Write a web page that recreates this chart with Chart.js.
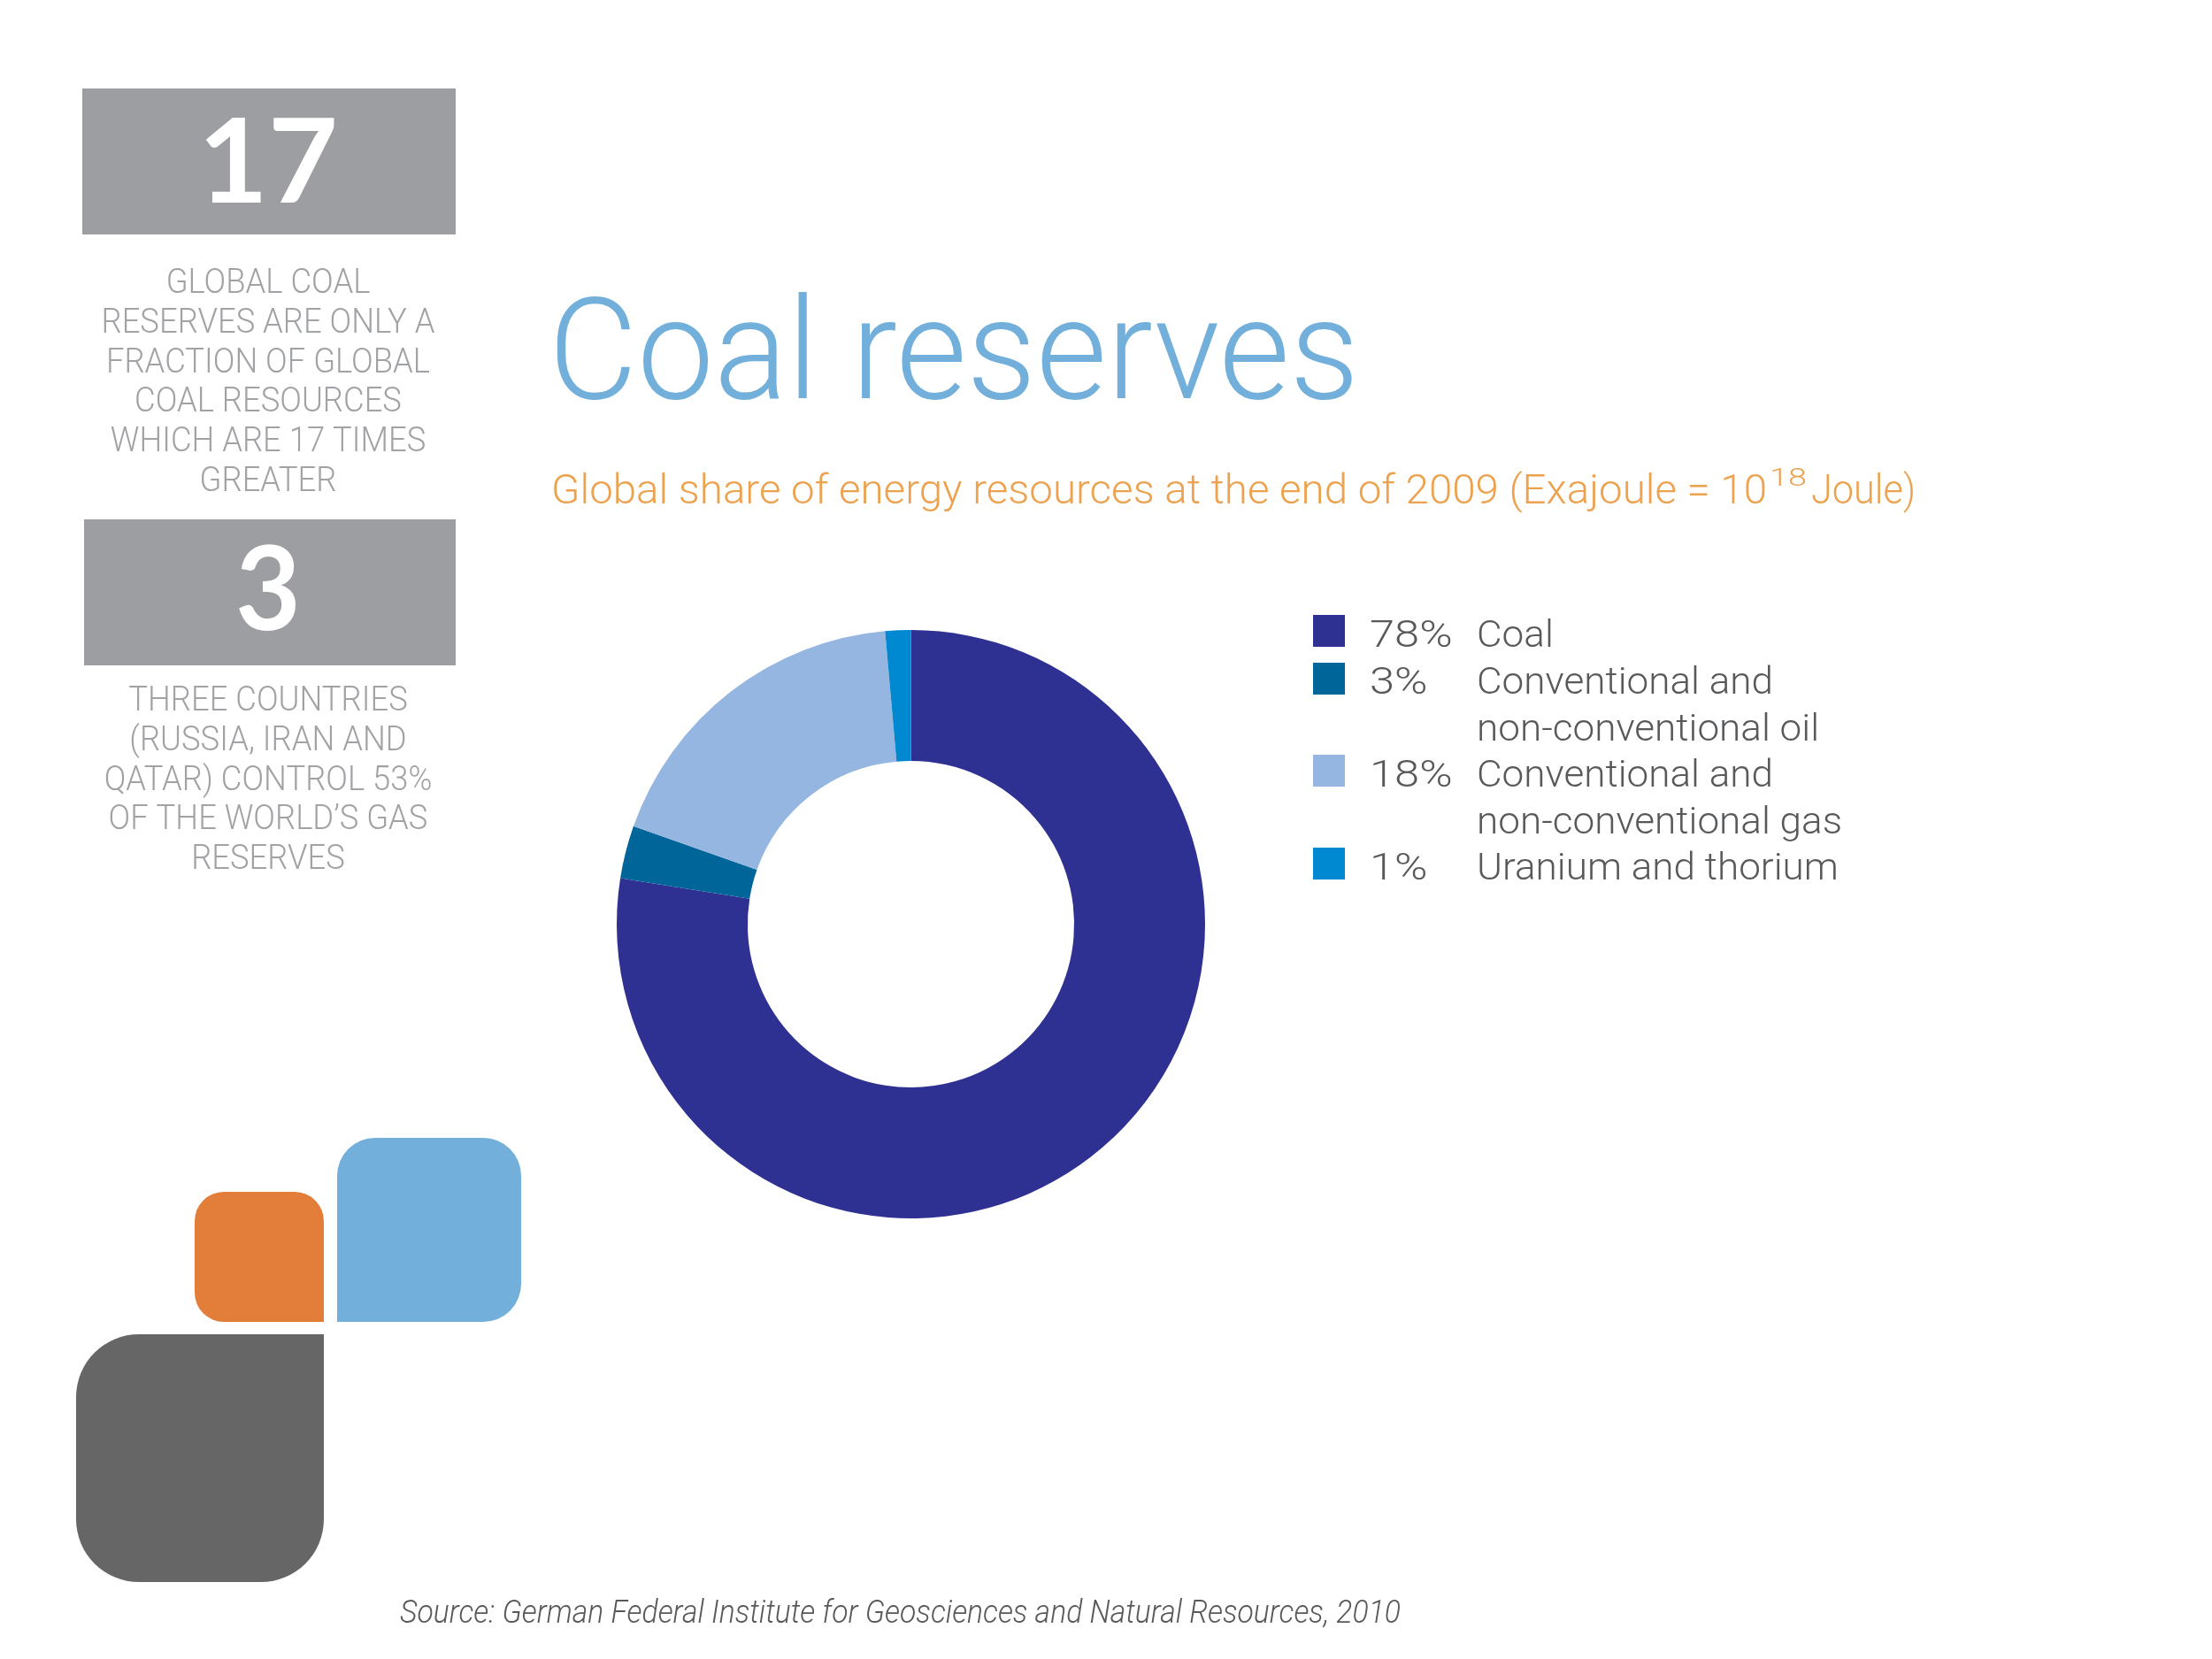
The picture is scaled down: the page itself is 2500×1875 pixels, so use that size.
<!DOCTYPE html>
<html>
<head>
<meta charset="utf-8">
<style>html,body{margin:0;padding:0;background:#fff}canvas{display:block}</style>
<script src="https://cdn.jsdelivr.net/npm/chart.js@4"></script>
</head>
<body>
<canvas id="c" width="2500" height="1875"></canvas>
<script>
const categories = ['Coal', 'Conventional and non-conventional oil', 'Conventional and non-conventional gas', 'Uranium and thorium'];
const shareValues = [77.5, 2.9, 18.2, 1.4];
const shareLabels = ['78%', '3%', '18%', '1%'];
const legendLines = [['Coal'], ['Conventional and', 'non-conventional oil'], ['Conventional and', 'non-conventional gas'], ['Uranium and thorium']];
const sliceColors = ['#2e3192', '#006699', '#95b6e0', '#0088d1'];
const titleText = 'Coal reserves';
const subtitleParts = ['Global share of energy resources at the end of 2009 (Exajoule = 10', '18', 'Joule)'];
const sourceText = 'Source: German Federal Institute for Geosciences and Natural Resources, 2010';
const statNumbers = ['17', '3'];
const statTexts = [
  ['GLOBAL COAL', 'RESERVES ARE ONLY A', 'FRACTION OF GLOBAL', 'COAL RESOURCES', 'WHICH ARE 17 TIMES', 'GREATER'],
  ['THREE COUNTRIES', '(RUSSIA, IRAN AND', 'QATAR) CONTROL 53%', 'OF THE WORLD\u2019S GAS', 'RESERVES']
];

function put(ctx, text, x, y, font, color, targetW, align) {
  ctx.save();
  ctx.font = font; ctx.fillStyle = color; ctx.textBaseline = 'alphabetic'; ctx.textAlign = 'left';
  const w = ctx.measureText(text).width;
  const sx = targetW ? targetW / w : 1;
  const left = align === 'center' ? x - w * sx / 2 : x;
  ctx.translate(left, y); ctx.scale(sx, 1);
  ctx.fillText(text, 0, 0);
  ctx.restore();
}
function scaleFor(ctx, text, font, targetW) {
  ctx.save(); ctx.font = font; const s = targetW / ctx.measureText(text).width; ctx.restore(); return s;
}
function widthAt(ctx, text, font, s) {
  ctx.save(); ctx.font = font; const w = ctx.measureText(text).width * s; ctx.restore(); return w;
}

const pagePlugin = {
  id: 'page',
  beforeDraw(chart) {
    const ctx = chart.ctx;
    ctx.save();
    ctx.fillStyle = '#fff'; ctx.fillRect(0, 0, 2500, 1875);
    ctx.fillStyle = '#9d9ea2';
    ctx.fillRect(93, 100, 422, 165);
    ctx.fillRect(95, 587, 420, 165);
    ctx.fillStyle = '#72b0db'; ctx.beginPath(); ctx.roundRect(381, 1286, 208, 208, [43, 43, 43, 0]); ctx.fill();
    ctx.fillStyle = '#e37e3a'; ctx.beginPath(); ctx.roundRect(220, 1347, 146, 147, [33, 33, 0, 33]); ctx.fill();
    ctx.fillStyle = '#666666'; ctx.beginPath(); ctx.roundRect(86, 1508, 280, 280, [71, 0, 71, 71]); ctx.fill();
    ctx.restore();

    const numFont = "bold 133px 'Lato'";
    put(ctx, statNumbers[0], 303, 229, numFont, '#ffffff', 158, 'center');
    put(ctx, statNumbers[1], 303, 712, numFont, '#ffffff', 74, 'center');

    const sideFont = "300 38px 'Roboto'";
    const sideS = scaleFor(ctx, statTexts[0][1], sideFont, 377);
    statTexts[0].forEach((t, i) => {
      put(ctx, t, 303, 331 + i * 44.8, sideFont, '#a0a2a5', widthAt(ctx, t, sideFont, sideS), 'center');
    });
    statTexts[1].forEach((t, i) => {
      put(ctx, t, 303, 803 + i * 44.8, sideFont, '#a0a2a5', widthAt(ctx, t, sideFont, sideS), 'center');
    });

    put(ctx, titleText, 620, 450, "300 160px 'Roboto'", '#72b0db', 916);

    const subFont = "300 46px 'Roboto'";
    const subS = scaleFor(ctx, subtitleParts[0], subFont, 1374);
    put(ctx, subtitleParts[0], 623, 569, subFont, '#eca24f', 1374);
    put(ctx, subtitleParts[1], 2000, 549, "300 28px 'Roboto'", '#eca24f', 42);
    put(ctx, subtitleParts[2], 2047, 569, subFont, '#eca24f', 118);

    const legFont = "300 42px 'Roboto'";
    const legS = scaleFor(ctx, 'non-conventional gas', legFont, 413);
    const rowY = [731, 784, 889, 994];
    const boxY = [695, 749, 853, 958];
    categories.forEach((cat, i) => {
      ctx.fillStyle = sliceColors[i];
      ctx.fillRect(1484, boxY[i], 36, 36);
      put(ctx, shareLabels[i], 1548, rowY[i], legFont, '#58595b', widthAt(ctx, shareLabels[i], legFont, legS * 1.15));
      legendLines[i].forEach((line, j) => {
        put(ctx, line, 1669, rowY[i] + j * 53, legFont, '#58595b', widthAt(ctx, line, legFont, legS));
      });
    });

    put(ctx, sourceText, 452, 1834, "italic 300 36px 'Roboto'", '#58595b', 1131);
  }
};

new Chart(document.getElementById('c'), {
  type: 'doughnut',
  data: {
    labels: categories,
    datasets: [{ data: shareValues, backgroundColor: sliceColors, borderWidth: 0, hoverOffset: 0 }]
  },
  options: {
    responsive: false,
    devicePixelRatio: 1,
    animation: false,
    cutout: '55.5%',
    layout: { padding: { left: 697, right: 1138, top: 712, bottom: 498 } },
    plugins: { legend: { display: false }, tooltip: { enabled: false }, title: { display: false } }
  },
  plugins: [pagePlugin]
});
</script>
</body>
</html>
